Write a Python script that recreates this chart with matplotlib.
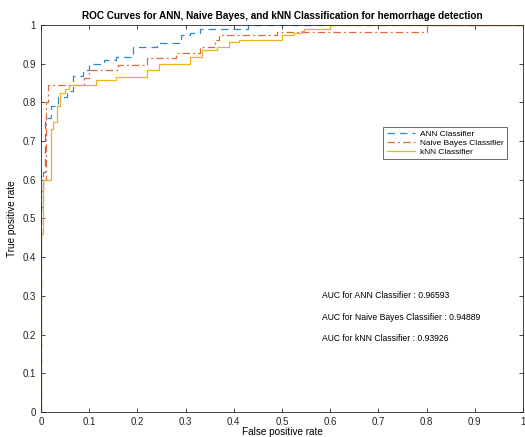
import matplotlib
matplotlib.use("Agg")
import matplotlib.pyplot as plt

plt.rcParams['font.family'] = ['Liberation Sans', 'DejaVu Sans']

ann_fpr = [0, 0, 0.004, 0.008, 0.02, 0.035, 0.054, 0.066, 0.087, 0.10, 0.13, 0.155, 0.19, 0.24, 0.29, 0.31, 0.33, 0.43, 1.0]
ann_tpr = [0, 0.53, 0.62, 0.76, 0.79, 0.815, 0.83, 0.868, 0.884, 0.90, 0.91, 0.918, 0.943, 0.953, 0.974, 0.98, 0.99, 1.0, 1.0]

nb_fpr = [0, 0, 0.004, 0.01, 0.015, 0.09, 0.10, 0.16, 0.22, 0.28, 0.33, 0.36, 0.37, 0.49, 0.8, 1.0]
nb_tpr = [0, 0.57, 0.6, 0.8, 0.845, 0.862, 0.884, 0.897, 0.915, 0.927, 0.943, 0.96, 0.973, 0.982, 1.0, 1.0]

knn_fpr = [0, 0, 0.005, 0.02, 0.025, 0.033, 0.04, 0.05, 0.058, 0.115, 0.155, 0.22, 0.245, 0.31, 0.335, 0.365, 0.39, 0.41, 0.5, 0.525, 0.54, 0.545, 0.6, 1.0]
knn_tpr = [0, 0.46, 0.6, 0.73, 0.75, 0.79, 0.825, 0.835, 0.845, 0.858, 0.866, 0.884, 0.90, 0.917, 0.935, 0.943, 0.956, 0.961, 0.974, 0.98, 0.985, 0.99, 1.0, 1.0]

labels = ['ANN Classifier', 'Naive Bayes Classifier', 'kNN Classifier']
auc_values = [0.96593, 0.94889, 0.93926]
auc_names = ['ANN Classifier', 'Naive Bayes Classifier', 'kNN Classifier']
xticks = [0, 0.1, 0.2, 0.3, 0.4, 0.5, 0.6, 0.7, 0.8, 0.9, 1]
yticks = [0, 0.1, 0.2, 0.3, 0.4, 0.5, 0.6, 0.7, 0.8, 0.9, 1]

fig = plt.figure(figsize=(5.25, 4.37), dpi=100)
ax = fig.add_axes([41/525, 25/437, 482/525, 387/437])

c_ann = '#2A8BC8'
c_nb = '#DE6A3C'
c_knn = '#EDB120'

ax.plot(ann_fpr, ann_tpr, drawstyle='steps-post', color=c_ann, lw=0.9, ls=(0, (6, 4)), label=labels[0])
ax.plot(nb_fpr, nb_tpr, drawstyle='steps-post', color=c_nb, lw=0.9, ls=(0, (6, 2.5, 1.5, 2.5)), label=labels[1])
ax.plot(knn_fpr, knn_tpr, drawstyle='steps-post', color=c_knn, lw=0.9, ls='-', label=labels[2])

ax.set_xlim(0, 1)
ax.set_ylim(0, 1)
ax.set_xticks(xticks)
ax.set_yticks(yticks)
ax.set_xticklabels([f'{t:g}' for t in xticks])
ax.set_yticklabels([f'{t:g}' for t in yticks])
ax.tick_params(direction='in', top=True, right=True, labelsize=7, length=3, width=0.6, colors='#262626')
for s in ax.spines.values():
    s.set_color('#262626')
    s.set_linewidth(0.6)

ax.set_title('ROC Curves for ANN, Naive Bayes, and kNN Classification for hemorrhage detection',
             fontsize=7.2, fontweight='bold', pad=4)
ax.set_xlabel('False positive rate', fontsize=7.2, labelpad=0)
ax.set_ylabel('True positive rate', fontsize=7.2, labelpad=4)

leg = ax.legend(loc='upper left', bbox_to_anchor=(0.71, 0.737), fontsize=6, frameon=True,
                fancybox=False, edgecolor='#262626', handlelength=3.4, borderpad=0.4,
                labelspacing=0.15, handletextpad=0.6, borderaxespad=0)
leg.get_frame().set_linewidth(0.6)

ys = [0.30, 0.245, 0.19]
for name, v, y in zip(auc_names, auc_values, ys):
    ax.text(0.583, y, f'AUC for {name} : {v:.5f}', fontsize=6.2, va='center', ha='left')

fig.savefig('out.png', dpi=100)
